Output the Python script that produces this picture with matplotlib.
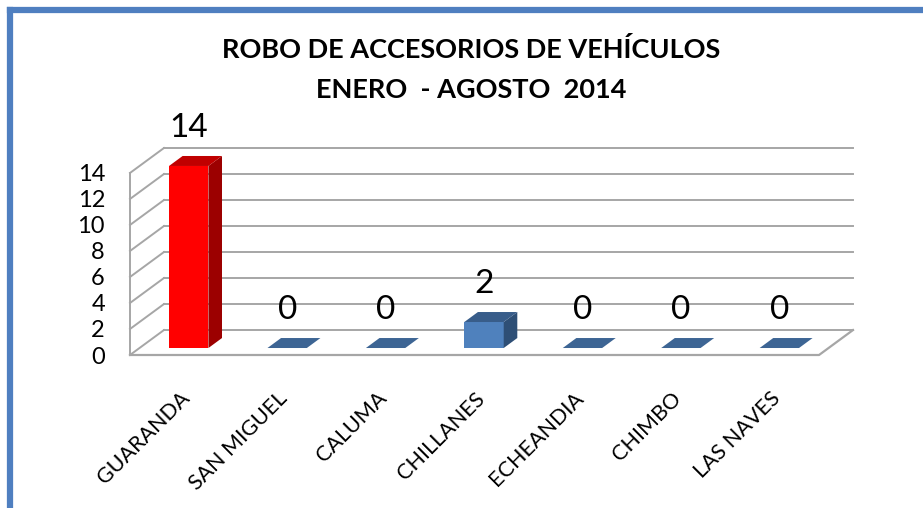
import matplotlib.pyplot as plt
from matplotlib.patches import Polygon
from matplotlib.lines import Line2D

categorias = ['GUARANDA', 'SAN MIGUEL', 'CALUMA', 'CHILLANES', 'ECHEANDIA', 'CHIMBO', 'LAS NAVES']
robos = [14, 0, 0, 2, 0, 0, 0]
yticks = [0, 2, 4, 6, 8, 10, 12, 14]

# pseudo 3d: desplazamiento de la pared del fondo (en unidades de datos)
DX, DY = 0.345, 1.92
F0, FD, W = 0.28, 0.40, 0.40
GRIS = '#a6a6a6'

plt.rcParams['font.family'] = ['Lato', 'DejaVu Sans']

fig = plt.figure(figsize=(9.23, 5.08), dpi=100)
ax = fig.add_axes([130 / 923, 1 - 355 / 508, 723 / 923, 207 / 508])
n = len(categorias)
ax.set_xlim(0, n + DX)
ax.set_ylim(0, max(yticks) + DY)
for s in ax.spines.values():
    s.set_visible(False)

# pared del fondo y lateral
for v in yticks:
    ax.plot([DX, n + DX], [v + DY, v + DY], color=GRIS, lw=1.4, clip_on=False, zorder=1)
    ax.plot([0, DX], [v, v + DY], color=GRIS, lw=1.4, clip_on=False, zorder=1)
ax.plot([0, 0], [0, max(yticks)], color=GRIS, lw=1.4, clip_on=False, zorder=1)
# piso
ax.plot([0, n, n + DX], [0, 0, DY], color=GRIS, lw=1.6, clip_on=False, zorder=1)

def barra(x, h, front, top, side):
    x0 = x - W / 2 + F0 * DX
    y0 = F0 * DY
    dx, dy = FD * DX, FD * DY
    if h > 0:
        ax.add_patch(Polygon([(x0, y0), (x0 + W, y0), (x0 + W, y0 + h), (x0, y0 + h)],
                             closed=True, fc=front, ec='none', zorder=3))
        ax.add_patch(Polygon([(x0 + W, y0), (x0 + W + dx, y0 + dy), (x0 + W + dx, y0 + h + dy), (x0 + W, y0 + h)],
                             closed=True, fc=side, ec='none', zorder=3))
    ax.add_patch(Polygon([(x0, y0 + h), (x0 + W, y0 + h), (x0 + W + dx, y0 + h + dy), (x0 + dx, y0 + h + dy)],
                         closed=True, fc=top, ec='none', zorder=3))

for i, v in enumerate(robos):
    xc = i + 0.5
    if i == 0:
        barra(xc, v, '#ff0000', '#c00000', '#9c0000')
    elif v > 0:
        barra(xc, v, '#4f81bd', '#385d8a', '#2e4f76')
    else:
        barra(xc, v, '#4f81bd', '#3d6594', '#2e4f76')
    ax.text(xc + F0 * DX, v + (F0 + FD / 2) * DY + 1.35, str(v), ha='center', va='bottom',
            fontsize=24, zorder=4)

ax.set_yticks(yticks)
ax.set_yticklabels([str(t) for t in yticks], fontsize=17)
ax.set_xticks([i + 0.5 for i in range(n)])
ax.set_xticklabels(categorias, rotation=45, ha='right', rotation_mode='anchor', fontsize=15.5)
ax.tick_params(axis='y', length=0, pad=18)
ax.tick_params(axis='x', length=0, pad=24)

fig.text(471 / 923, 1 - 50 / 508, 'ROBO DE ACCESORIOS DE VEHÍCULOS', ha='center', va='center',
         fontsize=19.5, fontweight='bold')
fig.text(471 / 923, 1 - 90 / 508, 'ENERO  - AGOSTO  2014', ha='center', va='center',
         fontsize=19.5, fontweight='bold')

# marco azul
fig.add_artist(Line2D([10 / 923, 10 / 923], [0, 1 - 10 / 508], color='#4f7fc0', lw=4.5))
fig.add_artist(Line2D([10 / 923, 1], [1 - 10 / 508, 1 - 10 / 508], color='#4f7fc0', lw=4.5))

fig.savefig('out.png', dpi=100)
